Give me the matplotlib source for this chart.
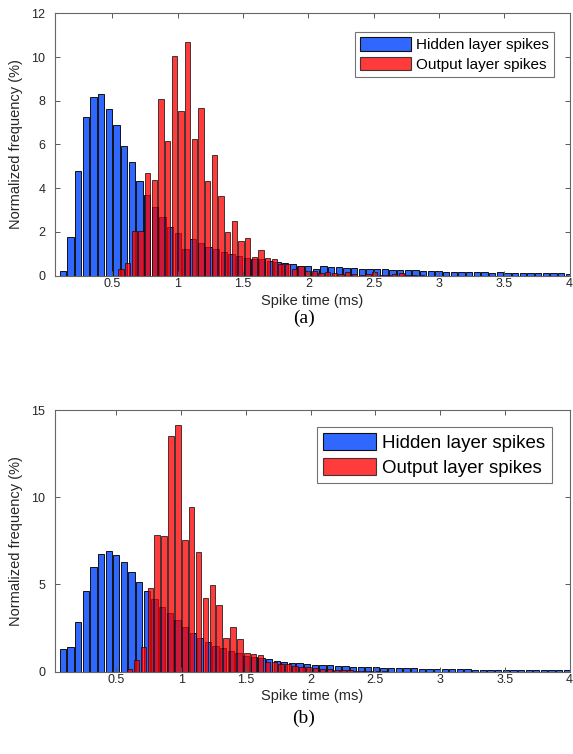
import numpy as np
import matplotlib
matplotlib.use("Agg")
import matplotlib.pyplot as plt
import matplotlib.patches as mpatches

plt.rcParams['font.family'] = ['Liberation Sans', 'DejaVu Sans']

# ---- data (normalized frequency, %) ----
# panel (a)
hidden_a_start, hidden_a_width = 0.120, 0.0587
hidden_a = [0.20, 1.77, 4.79, 7.27, 8.19, 8.31, 7.61, 6.90, 5.93, 5.20, 4.33,
            3.68, 3.16, 2.66, 2.24, 1.94, 1.20, 1.68, 1.48, 1.31, 1.22, 1.08,
            0.99, 0.90, 0.81, 0.78, 0.75, 0.67, 0.64, 0.57, 0.52, 0.46, 0.44,
            0.29, 0.44, 0.40, 0.39, 0.37, 0.34, 0.31, 0.30, 0.29, 0.29, 0.26,
            0.25, 0.25, 0.24, 0.22, 0.22, 0.20, 0.15, 0.17, 0.17, 0.17, 0.15,
            0.15, 0.14, 0.15, 0.14, 0.12, 0.12, 0.10, 0.10, 0.10, 0.10, 0.10,
            0.08]
output_a_start, output_a_width = 0.565, 0.0511
output_a = [0.29, 0.57, 2.03, 2.03, 4.70, 4.38, 8.09, 6.16, 10.05, 7.55, 10.70,
            6.24, 7.65, 4.33, 5.50, 3.66, 2.01, 2.49, 1.59, 1.71, 0.84, 1.18,
            0.82, 0.75, 0.53, 0.53, 0.31, 0.44, 0.23, 0.23, 0.14, 0.18, 0.14,
            0.07, 0.18, 0.07, 0.05, 0.07, 0.15, 0.05, 0.05, 0.07, 0.10, 0.03,
            0.02, 0.02]

# panel (b)
hidden_b_start, hidden_b_width = 0.0854, 0.059
hidden_b = [1.29, 1.44, 2.84, 4.60, 6.00, 6.75, 6.90, 6.71, 6.30, 5.73, 5.14,
            4.62, 4.17, 3.70, 3.36, 2.97, 2.55, 2.20, 1.94, 1.68, 1.48, 1.33,
            1.19, 1.06, 0.92, 0.84, 0.77, 0.71, 0.62, 0.56, 0.52, 0.47, 0.44,
            0.40, 0.38, 0.36, 0.35, 0.33, 0.29, 0.27, 0.25, 0.25, 0.23, 0.21,
            0.21, 0.19, 0.19, 0.17, 0.17, 0.15, 0.14, 0.14, 0.13, 0.13, 0.12,
            0.12, 0.12, 0.11, 0.11, 0.11, 0.10, 0.10, 0.10, 0.09, 0.09, 0.09,
            0.08]
output_b_start, output_b_width = 0.602, 0.0532
output_b = [0.13, 0.67, 1.40, 4.79, 7.86, 7.76, 13.50, 14.12, 7.57, 9.43, 6.88,
            4.25, 4.98, 3.83, 1.92, 2.55, 1.88, 1.06, 1.02, 0.96, 0.56, 0.53,
            0.44, 0.45, 0.30, 0.25, 0.29, 0.19, 0.14, 0.14, 0.10, 0.08, 0.08,
            0.06, 0.05, 0.04, 0.04, 0.03]

xticks = [0.5, 1, 1.5, 2, 2.5, 3, 3.5, 4]
xtick_labels = ['0.5', '1', '1.5', '2', '2.5', '3', '3.5', '4']
yticks_a = [0, 2, 4, 6, 8, 10, 12]
yticks_b = [0, 5, 10, 15]

BLUE = '#3068ff'
RED = '#ff0000'
RED_ALPHA = 0.77


def draw_hist(ax, start, width, values, color, alpha, frac):
    centers = start + width * np.arange(len(values))
    ax.bar(centers, values, width=width * frac, color=color, alpha=alpha,
           edgecolor='#111111', linewidth=0.7)


def style_panel(ax, xlim, ylim, yticks, leg_size, leg_anchor, hl, hh):
    ax.set_xlim(*xlim)
    ax.set_ylim(*ylim)
    ax.set_xticks(xticks)
    ax.set_xticklabels(xtick_labels)
    ax.set_yticks(yticks)
    ax.tick_params(direction='in', length=3.5, width=0.7, top=True, right=True,
                   labelsize=9, colors='0.35', labelcolor='0.15')
    ax.tick_params(axis='x', pad=2)
    ax.tick_params(axis='y', pad=7)
    for s in ax.spines.values():
        s.set_color('0.4')
        s.set_linewidth(0.8)
    ax.set_xlabel('Spike time (ms)', fontsize=10.5, color='0.15')
    ax.set_ylabel('Normalized frequency (%)', fontsize=10.5, color='0.15')
    ax.xaxis.set_label_coords(0.5, -0.068)
    ax.yaxis.set_label_coords(-0.062, 0.5)
    handles = [mpatches.Patch(facecolor=BLUE, edgecolor='#111111', linewidth=0.8),
               mpatches.Patch(facecolor=RED, alpha=RED_ALPHA, edgecolor='#111111',
                              linewidth=0.8)]
    leg = ax.legend(handles, ['Hidden layer spikes', 'Output layer spikes'],
                    loc='upper right', bbox_to_anchor=leg_anchor, borderaxespad=0,
                    fontsize=leg_size, handlelength=hl, handleheight=hh,
                    handletextpad=0.35, labelspacing=0.3, borderpad=0.35,
                    fancybox=False, framealpha=1, edgecolor='0.45')
    leg.get_frame().set_linewidth(0.8)


fig = plt.figure(figsize=(5.73, 7.54), dpi=100)

ax_a = fig.add_axes([0.096, 0.6344, 0.8979, 0.348])
draw_hist(ax_a, hidden_a_start, hidden_a_width, hidden_a, BLUE, 1.0, 0.82)
draw_hist(ax_a, output_a_start, output_a_width, output_a, RED, RED_ALPHA, 0.8)
style_panel(ax_a, (0.06, 4), (0, 12), yticks_a, 11, (0.9705, 0.930), 3.3, 1.0)

ax_b = fig.add_axes([0.096, 0.1092, 0.8979, 0.347])
draw_hist(ax_b, hidden_b_start, hidden_b_width, hidden_b, BLUE, 1.0, 0.82)
draw_hist(ax_b, output_b_start, output_b_width, output_b, RED, RED_ALPHA, 0.8)
style_panel(ax_b, (0.025, 4), (0, 15), yticks_b, 13.5, (0.9663, 0.936), 2.8, 1.0)

fig.text(0.53, (754 - 318) / 754, '(a)', ha='center', va='center', fontsize=14,
         family=['Liberation Serif', 'DejaVu Serif'])
fig.text(0.53, (754 - 718) / 754, '(b)', ha='center', va='center', fontsize=14,
         family=['Liberation Serif', 'DejaVu Serif'])

fig.savefig('out.png', dpi=100)
